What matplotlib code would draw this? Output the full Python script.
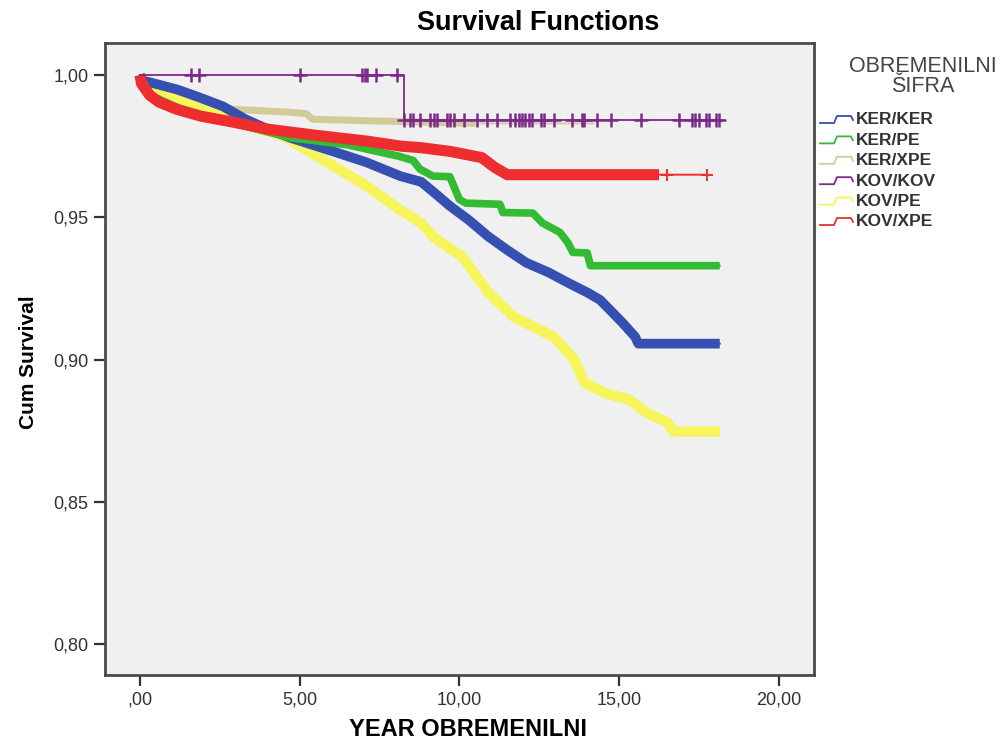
import matplotlib
matplotlib.use('Agg')
import matplotlib.pyplot as plt
from matplotlib.lines import Line2D
import numpy as np

plt.rcParams['font.family'] = ['Liberation Sans', 'DejaVu Sans']

# Kaplan-Meier curves (time in years, cumulative survival)
groups = ['KER/KER', 'KER/PE', 'KER/XPE', 'KOV/KOV', 'KOV/PE', 'KOV/XPE']
colors = ['#3550B0', '#33BB33', '#D2CB98', '#7A2A88', '#F7F55C', '#EE2E2E']

ker_ker_t = [0, 0.1, 0.3, 1.15, 1.9, 2.6, 3.3, 4.0, 4.7, 6.1, 7.1, 8.15, 8.8, 9.2, 9.7,
             10.3, 10.9, 11.5, 12.1, 12.8, 13.4, 14.0, 14.4, 14.7, 15.1, 15.5, 15.6, 18.15]
ker_ker_s = [1.0, 0.998, 0.9975, 0.995, 0.992, 0.989, 0.9845, 0.981, 0.978, 0.973, 0.9693,
             0.9645, 0.9625, 0.9588, 0.954, 0.949, 0.9433, 0.9385, 0.934, 0.9306, 0.927,
             0.9236, 0.921, 0.9176, 0.913, 0.908, 0.9056, 0.9056]

ker_pe_t = [0, 0.3, 1.5, 3.0, 4.7, 6.5, 8.1, 8.55, 8.76, 9.17, 9.7, 10.0, 10.2, 11.27,
            11.36, 12.3, 12.6, 13.15, 13.4, 13.55, 14.0, 14.1, 18.15]
ker_pe_s = [1.0, 0.993, 0.987, 0.983, 0.978, 0.9755, 0.9715, 0.970, 0.967, 0.9645, 0.9643,
            0.9563, 0.955, 0.9546, 0.9517, 0.9515, 0.948, 0.9447, 0.941, 0.9377, 0.9375,
            0.933, 0.933]

ker_xpe_t = [0, 0.1, 0.4, 0.8, 1.2, 2.0, 2.9, 3.8, 4.6, 5.2, 5.4, 7.0, 8.8, 10.5, 12.5, 14.2]
ker_xpe_s = [1.0, 0.996, 0.9935, 0.992, 0.991, 0.9895, 0.988, 0.9875, 0.987, 0.9865, 0.9845,
             0.984, 0.9835, 0.983, 0.983, 0.983]

kov_kov_t = [0, 8.26, 8.26, 18.15]
kov_kov_s = [1.0, 1.0, 0.9842, 0.9842]
kov_kov_cens_hi = [1.6, 1.85, 5.0, 6.95, 7.05, 7.1, 7.4, 8.05]
kov_kov_cens_lo = [8.25, 8.46, 8.56, 8.77, 9.09, 9.19, 9.3, 9.61, 9.71, 9.82, 10.13, 10.55,
                   10.86, 11.18, 11.59, 11.75, 11.86, 11.96, 12.06, 12.17, 12.27, 12.54,
                   12.64, 12.95, 13.53, 13.84, 13.89, 14.31, 14.73, 15.67, 16.87, 17.29,
                   17.39, 17.5, 17.71, 17.81, 18.02, 18.12]

kov_pe_t = [0, 0.1, 0.3, 1.9, 3.45, 4.5, 5.55, 7.1, 8.1, 8.8, 9.2, 10.1, 10.9, 11.7, 12.95,
            13.6, 13.9, 14.6, 15.3, 15.9, 16.5, 16.7, 18.15]
kov_pe_s = [1.0, 0.997, 0.9944, 0.989, 0.982, 0.9786, 0.9715, 0.961, 0.953, 0.948, 0.943,
            0.936, 0.9236, 0.915, 0.908, 0.900, 0.892, 0.888, 0.886, 0.881, 0.878, 0.8747,
            0.8747]

kov_xpe_t = [0, 0.05, 0.3, 0.6, 1.15, 1.9, 2.9, 4.0, 5.4, 7.1, 8.2, 8.8, 9.7, 10.7, 11.1,
             11.5, 16.25, 17.75]
kov_xpe_s = [1.0, 0.997, 0.993, 0.9905, 0.988, 0.9856, 0.9835, 0.981, 0.979, 0.9768,
             0.975, 0.9745, 0.9732, 0.971, 0.9676, 0.965, 0.965, 0.965]
kov_xpe_cens = [16.5, 17.75]

xticks = [0, 5, 10, 15, 20]
xticklabels = [',00', '5,00', '10,00', '15,00', '20,00']
yticks = [0.80, 0.85, 0.90, 0.95, 1.00]
yticklabels = ['0,80', '0,85', '0,90', '0,95', '1,00']

W, H = 1005, 741
fig = plt.figure(figsize=(W / 100, H / 100), dpi=100)
ax = fig.add_axes([105 / W, 1 - 675 / H, (814 - 105) / W, (675 - 43) / H])
ax.set_facecolor('#F0F0F0')

# (t, s, colour, band width, end of thick band, zorder)
curves = [
    (ker_xpe_t, ker_xpe_s, colors[2], 5.0, 10.5, 1),
    (kov_pe_t, kov_pe_s, colors[4], 7.5, 18.15, 2),
    (ker_ker_t, ker_ker_s, colors[0], 7.0, 18.15, 3),
    (ker_pe_t, ker_pe_s, colors[1], 5.5, 18.15, 4),
    (kov_xpe_t, kov_xpe_s, colors[5], 8.0, 16.25, 6),
]
for t, s, c, lw, band_end, z in curves:
    t = np.array(t)
    s = np.array(s)
    ax.plot(t, s, color=c, lw=1.4, zorder=z)
    m = t <= band_end
    ax.plot(t[m], s[m], color=c, lw=lw, solid_joinstyle='round',
            solid_capstyle='butt', zorder=z)

ax.plot(kov_xpe_cens, [kov_xpe_s[-1]] * len(kov_xpe_cens), '+', color=colors[5],
        ms=9, mew=1.4, zorder=6)

ax.plot(kov_kov_t, kov_kov_s, color=colors[3], lw=1.3, zorder=7)
ax.plot(kov_kov_cens_hi, [1.0] * len(kov_kov_cens_hi), '+', color=colors[3],
        ms=10, mew=1.8, zorder=7)
ax.plot(kov_kov_cens_lo, [kov_kov_s[-1]] * len(kov_kov_cens_lo), '+', color=colors[3],
        ms=10, mew=1.8, zorder=7)

ax.set_xlim(-1.095, 21.1)
ax.set_ylim(0.7891, 1.0113)
ax.set_xticks(xticks)
ax.set_xticklabels(xticklabels)
ax.set_yticks(yticks)
ax.set_yticklabels(yticklabels)
ax.tick_params(direction='out', length=8, width=1.6, color='#333333',
               labelsize=13, labelcolor='#333333', pad=4)
for sp in ax.spines.values():
    sp.set_linewidth(2)
    sp.set_color('#4A4A4A')

fig.text(538 / W, 1 - 23 / H, 'Survival Functions', ha='center', va='center',
         fontsize=19.5, fontweight='bold')
fig.text(28 / W, 1 - 362 / H, 'Cum Survival', ha='center', va='center',
         rotation=90, fontsize=15, fontweight='bold')
fig.text(468 / W, 1 - 718 / H, 'YEAR OBREMENILNI', ha='center', va='top',
         fontsize=17, fontweight='bold')

# legend drawn by hand with SPSS-like step glyphs
fig.text(923 / W, 1 - 66 / H, 'OBREMENILNI', ha='center', va='center',
         fontsize=15.5, color='#444444')
fig.text(923 / W, 1 - 87 / H, 'ŠIFRA', ha='center', va='center',
         fontsize=15.5, color='#444444')
for i, (g, c) in enumerate(zip(groups, colors)):
    yc = 120 + i * 20.4
    gx = np.array([820, 834, 837, 851, 853]) / W
    gy = 1 - np.array([yc + 3, yc + 3, yc - 4, yc - 4, yc]) / H
    fig.add_artist(Line2D(gx, gy, color=c, lw=1.3))
    fig.text(856 / W, 1 - yc / H, g, ha='left', va='center',
             fontsize=12.5, fontweight='bold', color='#333333')

fig.savefig('out.png', dpi=100)
